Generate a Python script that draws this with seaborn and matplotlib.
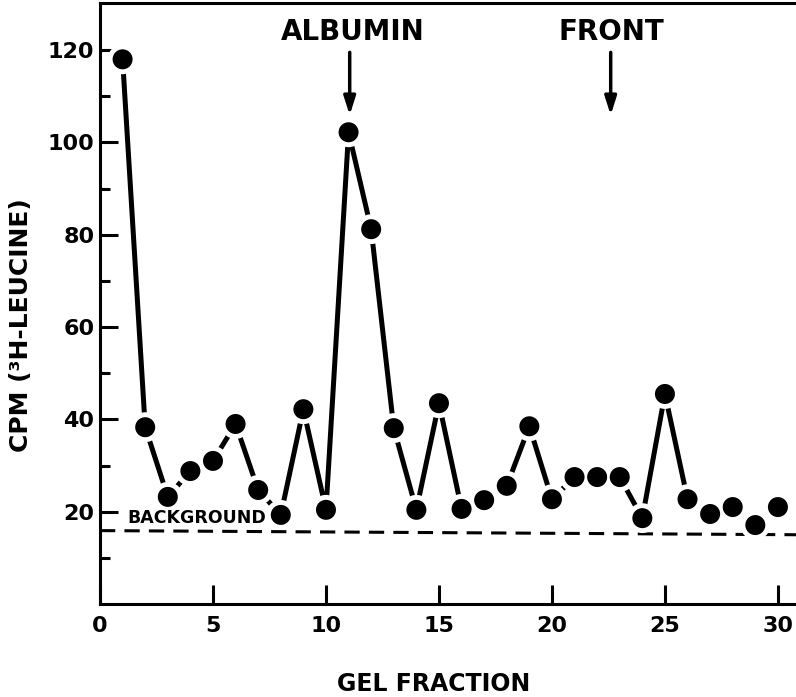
import numpy as np
import pandas as pd
import matplotlib
matplotlib.use("Agg")
import matplotlib.pyplot as plt
import seaborn as sns

# Data
fractions = list(range(1, 31))
cpm = [118, 38.3, 23.2, 28.8, 31, 39, 24.7, 19.3, 42.2, 20.4,
       102.2, 81.2, 38.1, 20.4, 43.5, 20.6, 22.5, 25.6, 38.5, 22.7,
       27.5, 27.5, 27.5, 18.6, 45.5, 22.7, 19.5, 21, 17.1, 21]
background_x = [0, 31]
background_y = [15.9, 15.0]
x_ticks = [0, 5, 10, 15, 20, 25, 30]
y_ticks = [20, 40, 60, 80, 100, 120]
annotations = ["ALBUMIN", "FRONT"]
annotation_x = [11.05, 22.6]

df = pd.DataFrame({"fraction": fractions, "cpm": cpm})
bg = pd.DataFrame({"x": background_x, "y": background_y})

sns.set_style("white")
plt.rcParams["font.family"] = ["DejaVu Sans"]
plt.rcParams["font.weight"] = "bold"
for key in ["text.color", "axes.labelcolor", "xtick.color", "ytick.color", "axes.edgecolor"]:
    plt.rcParams[key] = "black"

fig = plt.figure(figsize=(7.96, 6.97), dpi=100)
ax = fig.add_axes([100/796, 93/697, 696/796, 601/697])

# background dashed line
sns.lineplot(data=bg, x="x", y="y", ax=ax, color="black", lw=2.2,
             dashes=False, linestyle=(0, (5, 3)), zorder=1)
# connecting line
sns.lineplot(data=df, x="fraction", y="cpm", ax=ax, color="black", lw=3.6, zorder=2)
# white halo to create gaps
sns.scatterplot(data=df, x="fraction", y="cpm", ax=ax, color="white", s=21.5**2,
                edgecolor="none", zorder=3, linewidth=0)
# black markers
sns.scatterplot(data=df, x="fraction", y="cpm", ax=ax, color="black", s=(14.4)**2,
                edgecolor="none", zorder=4, linewidth=0)

ax.set_xlim(0, 30.8)
ax.set_ylim(0, 130.2)
ax.set_xticks(x_ticks)
ax.set_yticks(y_ticks)
ax.set_yticks([10, 30, 50, 70, 90, 110], minor=True)
ax.tick_params(axis="y", which="major", direction="in", length=13, width=2.2,
               labelsize=16, pad=4, left=True, colors="black")
ax.tick_params(axis="y", which="minor", direction="in", length=7, width=2.2, left=True,
               colors="black")
ax.tick_params(axis="x", which="major", direction="in", length=14, width=2.2,
               labelsize=16, pad=9, bottom=True, colors="black")
for lab in ax.get_xticklabels() + ax.get_yticklabels():
    lab.set_fontweight("bold")

for side in ["left", "bottom", "top"]:
    ax.spines[side].set_linewidth(2.2)
    ax.spines[side].set_color("black")
ax.spines["right"].set_visible(False)

ax.set_xlabel("GEL FRACTION", fontsize=17, fontweight="bold", color="black")
ax.set_ylabel("CPM (³H-LEUCINE)", fontsize=18, fontweight="bold", color="black")
ax.xaxis.set_label_coords(0.48, -0.113)
ax.yaxis.set_label_coords(-0.096, 0.464)

for name, xv in zip(annotations, annotation_x):
    ax.text(xv + (0.15 if name == "ALBUMIN" else 0.05), 123.9, name, ha="center", va="center",
            fontsize=20, fontweight="bold", color="black")
    ax.annotate("", xy=(xv, 105.9), xytext=(xv, 119.5),
                arrowprops=dict(arrowstyle="-|>,head_length=1.1,head_width=0.35",
                                color="black", lw=2.5, shrinkA=0, shrinkB=0))

ax.text(1.2, 18.6, "BACKGROUND", ha="left", va="center", fontsize=12.5,
        fontweight="bold", color="black")

fig.savefig("out.png", dpi=100)
